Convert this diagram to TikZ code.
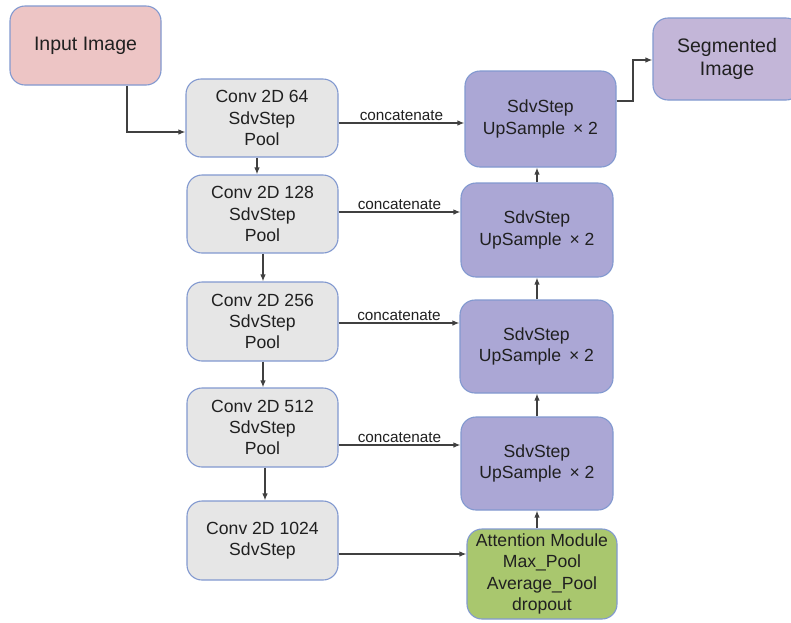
\documentclass[tikz,border=0pt]{standalone}
\usepackage{fontspec}
\setmainfont{Liberation Sans}
\usetikzlibrary{arrows.meta,calc}
\definecolor{pinkfill}{HTML}{EDC5C5}
\definecolor{grayfill}{HTML}{E6E6E6}
\definecolor{purplefill}{HTML}{ABA7D5}
\definecolor{segfill}{HTML}{C3B6D8}
\definecolor{greenfill}{HTML}{A9C76E}
\definecolor{edgeblue}{HTML}{8299D0}
\definecolor{linecol}{HTML}{404040}
\definecolor{textcol}{HTML}{202020}
\tikzset{
  box/.style={draw=edgeblue, line width=1.1pt, rounded corners=15pt, inner sep=0pt,
    align=center, text=textcol, font=\fontsize{17.6}{21.3}\selectfont},
  arr/.style={draw=linecol, line width=1.3pt, -{Latex[length=7pt,width=5.5pt]}},
  conlabel/.style={font=\fontsize{15.3}{17}\selectfont, text=textcol, inner sep=1pt, above=1pt, midway}
}
\begin{document}
\begin{tikzpicture}[x=1pt,y=-1pt]
\useasboundingbox (0,0) rectangle (791,622);
\fill[white] (0,0) rectangle (791,622);
% nodes
\node[box, fill=pinkfill, minimum width=151pt, minimum height=79pt, font=\fontsize{19.5}{23}\selectfont] (in) at (85.5,45.5) {Input Image};
\node[box, fill=segfill, minimum width=148pt, minimum height=82pt, font=\fontsize{19.5}{23}\selectfont] (seg) at (727,59) {Segmented\\Image};
\node[box, fill=grayfill, minimum width=152pt, minimum height=78pt] (c1) at (262,118) {Conv 2D 64\\SdvStep\\Pool};
\node[box, fill=grayfill, minimum width=151pt, minimum height=78pt] (c2) at (262.5,214) {Conv 2D 128\\SdvStep\\Pool};
\node[box, fill=grayfill, minimum width=151pt, minimum height=79pt] (c3) at (262.5,321.5) {Conv 2D 256\\SdvStep\\Pool};
\node[box, fill=grayfill, minimum width=151pt, minimum height=79pt] (c4) at (262.5,427.5) {Conv 2D 512\\SdvStep\\Pool};
\node[box, fill=grayfill, minimum width=151pt, minimum height=79pt] (c5) at (262.5,540.5) {Conv 2D 1024\\SdvStep};
\node[box, fill=purplefill, minimum width=151pt, minimum height=96pt] (u1) at (540.5,119) {SdvStep\\UpSample\hspace{0.45em}× 2};
\node[box, fill=purplefill, minimum width=152pt, minimum height=94pt] (u2) at (537,230) {SdvStep\\UpSample\hspace{0.45em}× 2};
\node[box, fill=purplefill, minimum width=153pt, minimum height=93pt] (u3) at (536.5,346.5) {SdvStep\\UpSample\hspace{0.45em}× 2};
\node[box, fill=purplefill, minimum width=152pt, minimum height=93pt] (u4) at (537,463.5) {SdvStep\\UpSample\hspace{0.45em}× 2};
\node[box, fill=greenfill, minimum width=150pt, minimum height=90pt] (att) at (542,574) {Attention Module\\Max\_Pool\\Average\_Pool\\dropout};
% connectors
\draw[arr] (in.south -| 127,0) |- (c1.west |- 0,132);
\draw[arr] (c1.south -| 257,0) -- (c2.north -| 257,0);
\draw[arr] (c2.south -| 263,0) -- (c3.north -| 263,0);
\draw[arr] (c3.south -| 263,0) -- (c4.north -| 263,0);
\draw[arr] (c4.south -| 265,0) -- (c5.north -| 265,0);
\draw[arr] (c1.east |- 0,123) -- node[conlabel] {concatenate} (u1.west |- 0,123);
\draw[arr] (c2.east |- 0,212) -- node[conlabel] {concatenate} (u2.west |- 0,212);
\draw[arr] (c3.east |- 0,323) -- node[conlabel] {concatenate} (u3.west |- 0,323);
\draw[arr] (c4.east |- 0,445) -- node[conlabel] {concatenate} (u4.west |- 0,445);
\draw[arr] (c5.east |- 0,554) -- (att.west |- 0,554);
\draw[arr] (att.north -| 537,0) -- (u4.south -| 537,0);
\draw[arr] (u4.north -| 537,0) -- (u3.south -| 537,0);
\draw[arr] (u3.north -| 537,0) -- (u2.south -| 537,0);
\draw[arr] (u2.north -| 537,0) -- (u1.south -| 537,0);
\draw[arr] (u1.east |- 0,101) -- (633,101) |- (seg.west |- 0,60);
\end{tikzpicture}
\end{document}
